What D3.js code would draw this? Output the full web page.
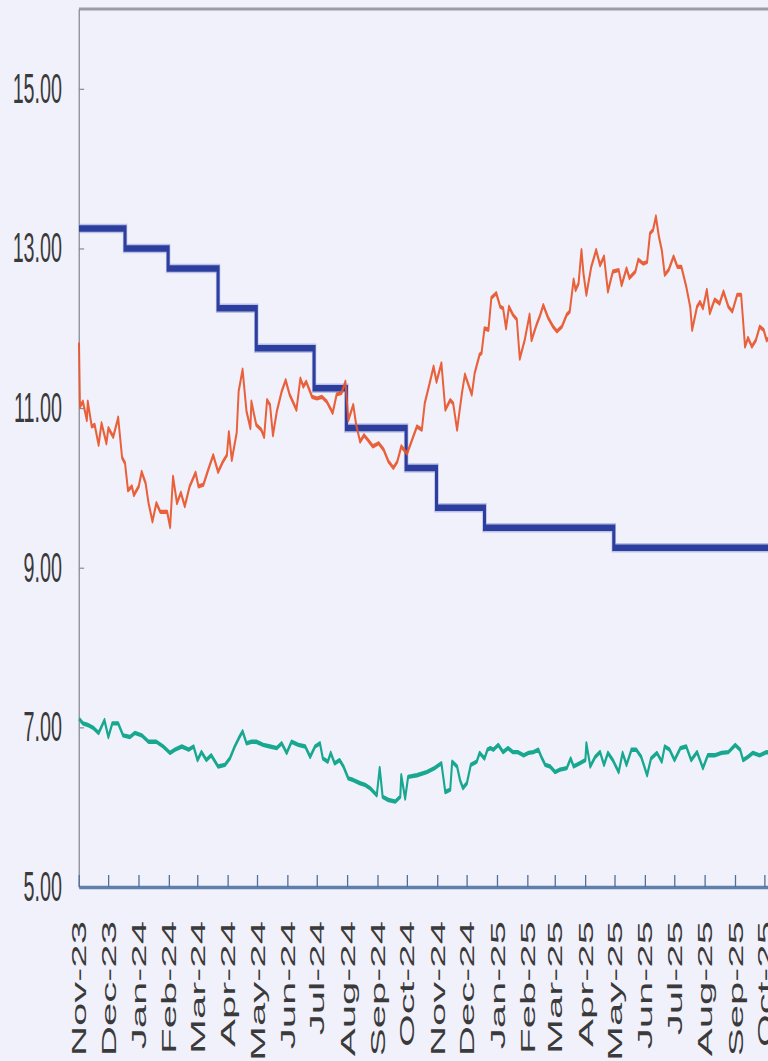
<!DOCTYPE html>
<html>
<head>
<meta charset="utf-8">
<script src="https://cdn.jsdelivr.net/npm/d3@7/dist/d3.min.js"></script>
<style>
  html, body { margin: 0; padding: 0; background: #f1f1fc; }
  svg { display: block; }
</style>
</head>
<body>
<svg id="chart"></svg>
<script>
/*
 rates chart: policy rate (steps) and two daily yield series
*/

// policy rate, value holds from each date until the next one
const policyRate = [
    ["2023-11-01", 13.25], ["2023-12-18", 13.00], ["2024-01-31", 12.75],
    ["2024-03-22", 12.25], ["2024-04-30", 11.75], ["2024-06-28", 11.25],
    ["2024-07-31", 10.75], ["2024-09-30", 10.25], ["2024-10-31", 9.75],
    ["2024-12-19", 9.50], ["2025-04-30", 9.25], ["2025-10-08", 9.25]
];

// orange series
const localYield = [
    ["2023-11-01", 11.82], ["2023-11-02", 11.02], ["2023-11-05", 11.08], ["2023-11-09", 10.85],
    ["2023-11-10", 11.08], ["2023-11-14", 10.77], ["2023-11-17", 10.79], ["2023-11-21", 10.54],
    ["2023-11-24", 10.81], ["2023-11-29", 10.56], ["2023-12-01", 10.75], ["2023-12-06", 10.64],
    ["2023-12-11", 10.88], ["2023-12-15", 10.38], ["2023-12-18", 10.31], ["2023-12-21", 9.97],
    ["2023-12-25", 10.02], ["2023-12-27", 9.91], ["2024-01-01", 10.02], ["2024-01-04", 10.20],
    ["2024-01-08", 10.06], ["2024-01-11", 9.81], ["2024-01-15", 9.58], ["2024-01-19", 9.81],
    ["2024-01-23", 9.70], ["2024-01-30", 9.70], ["2024-02-02", 9.51], ["2024-02-05", 10.14],
    ["2024-02-09", 9.81], ["2024-02-13", 9.94], ["2024-02-17", 9.77], ["2024-02-22", 10.02],
    ["2024-02-28", 10.19], ["2024-03-02", 10.02], ["2024-03-07", 10.04], ["2024-03-12", 10.23],
    ["2024-03-17", 10.41], ["2024-03-22", 10.20], ["2024-03-27", 10.33], ["2024-03-31", 10.41],
    ["2024-04-02", 10.70], ["2024-04-05", 10.35], ["2024-04-10", 10.69], ["2024-04-12", 11.21],
    ["2024-04-16", 11.48], ["2024-04-20", 10.96], ["2024-04-24", 10.75], ["2024-04-25", 11.08],
    ["2024-04-30", 10.79], ["2024-05-05", 10.73], ["2024-05-08", 10.64], ["2024-05-11", 11.10],
    ["2024-05-14", 11.04], ["2024-05-17", 10.66], ["2024-05-21", 10.96], ["2024-05-26", 11.21],
    ["2024-05-30", 11.35], ["2024-06-03", 11.17], ["2024-06-10", 10.98], ["2024-06-14", 11.37],
    ["2024-06-17", 11.27], ["2024-06-20", 11.33], ["2024-06-26", 11.14], ["2024-07-01", 11.12],
    ["2024-07-06", 11.14], ["2024-07-11", 11.08], ["2024-07-17", 10.94], ["2024-07-21", 11.17],
    ["2024-07-26", 11.19], ["2024-07-30", 11.33], ["2024-08-02", 10.85], ["2024-08-07", 11.04],
    ["2024-08-10", 10.79], ["2024-08-14", 10.58], ["2024-08-18", 10.66], ["2024-08-22", 10.60],
    ["2024-08-27", 10.52], ["2024-09-02", 10.56], ["2024-09-07", 10.48], ["2024-09-12", 10.33],
    ["2024-09-17", 10.25], ["2024-09-21", 10.33], ["2024-09-25", 10.52], ["2024-10-01", 10.43],
    ["2024-10-06", 10.60], ["2024-10-11", 10.77], ["2024-10-16", 10.73], ["2024-10-19", 11.06],
    ["2024-10-24", 11.31], ["2024-10-28", 11.52], ["2024-10-31", 11.33], ["2024-11-05", 11.56],
    ["2024-11-09", 10.98], ["2024-11-14", 11.10], ["2024-11-17", 11.06], ["2024-11-21", 10.73],
    ["2024-11-26", 11.19], ["2024-11-29", 11.42], ["2024-12-06", 11.17], ["2024-12-09", 11.44],
    ["2024-12-14", 11.67], ["2024-12-16", 11.69], ["2024-12-19", 12.00], ["2024-12-23", 11.98],
    ["2024-12-26", 12.38], ["2024-12-31", 12.44], ["2025-01-04", 12.27], ["2025-01-07", 12.25],
    ["2025-01-10", 12.00], ["2025-01-13", 12.27], ["2025-01-17", 12.17], ["2025-01-21", 12.11],
    ["2025-01-24", 11.62], ["2025-01-29", 11.85], ["2025-02-03", 12.17], ["2025-02-05", 11.85],
    ["2025-02-10", 12.04], ["2025-02-14", 12.17], ["2025-02-17", 12.29], ["2025-02-22", 12.13],
    ["2025-02-27", 12.02], ["2025-03-03", 11.96], ["2025-03-08", 12.02], ["2025-03-13", 12.17],
    ["2025-03-16", 12.21], ["2025-03-20", 12.61], ["2025-03-22", 12.48], ["2025-03-25", 12.56],
    ["2025-03-28", 12.98], ["2025-03-30", 12.69], ["2025-04-02", 12.42], ["2025-04-07", 12.77],
    ["2025-04-12", 12.98], ["2025-04-16", 12.79], ["2025-04-20", 12.90], ["2025-04-24", 12.46],
    ["2025-04-29", 12.71], ["2025-05-05", 12.73], ["2025-05-08", 12.54], ["2025-05-13", 12.75],
    ["2025-05-16", 12.63], ["2025-05-22", 12.71], ["2025-05-25", 12.86], ["2025-05-30", 12.81],
    ["2025-06-03", 12.83], ["2025-06-06", 13.19], ["2025-06-09", 13.23], ["2025-06-12", 13.40],
    ["2025-06-15", 13.15], ["2025-06-18", 12.98], ["2025-06-21", 12.67], ["2025-06-25", 12.73],
    ["2025-06-30", 12.90], ["2025-07-04", 12.77], ["2025-07-08", 12.77], ["2025-07-13", 12.52],
    ["2025-07-17", 12.27], ["2025-07-19", 11.98], ["2025-07-24", 12.27], ["2025-07-27", 12.33],
    ["2025-07-30", 12.25], ["2025-08-03", 12.48], ["2025-08-06", 12.19], ["2025-08-11", 12.36],
    ["2025-08-16", 12.31], ["2025-08-20", 12.46], ["2025-08-25", 12.27], ["2025-08-29", 12.21],
    ["2025-09-03", 12.42], ["2025-09-07", 12.42], ["2025-09-11", 11.77], ["2025-09-14", 11.88],
    ["2025-09-18", 11.77], ["2025-09-22", 11.85], ["2025-09-26", 12.02], ["2025-09-30", 11.98],
    ["2025-10-03", 11.85], ["2025-10-08", 11.90]
];

// teal series
const otherYield = [
    ["2023-11-01", 7.11], ["2023-11-05", 7.05], ["2023-11-10", 7.03], ["2023-11-16", 6.99],
    ["2023-11-21", 6.93], ["2023-11-27", 7.09], ["2023-12-01", 6.88], ["2023-12-05", 7.05],
    ["2023-12-11", 7.05], ["2023-12-16", 6.90], ["2023-12-23", 6.88], ["2023-12-28", 6.93],
    ["2024-01-04", 6.90], ["2024-01-11", 6.82], ["2024-01-19", 6.82], ["2024-01-26", 6.76],
    ["2024-02-02", 6.68], ["2024-02-07", 6.72], ["2024-02-14", 6.76], ["2024-02-21", 6.72],
    ["2024-02-26", 6.76], ["2024-03-01", 6.59], ["2024-03-05", 6.69], ["2024-03-10", 6.59],
    ["2024-03-15", 6.65], ["2024-03-22", 6.51], ["2024-03-29", 6.53], ["2024-04-03", 6.61],
    ["2024-04-08", 6.76], ["2024-04-12", 6.86], ["2024-04-16", 6.95], ["2024-04-20", 6.80],
    ["2024-04-25", 6.82], ["2024-04-30", 6.82], ["2024-05-07", 6.78], ["2024-05-14", 6.76],
    ["2024-05-21", 6.74], ["2024-05-26", 6.80], ["2024-05-31", 6.68], ["2024-06-05", 6.82],
    ["2024-06-12", 6.78], ["2024-06-19", 6.76], ["2024-06-24", 6.63], ["2024-06-29", 6.76],
    ["2024-07-04", 6.80], ["2024-07-07", 6.61], ["2024-07-12", 6.57], ["2024-07-15", 6.68],
    ["2024-07-19", 6.55], ["2024-07-24", 6.59], ["2024-07-28", 6.51], ["2024-08-02", 6.36],
    ["2024-08-07", 6.34], ["2024-08-14", 6.30], ["2024-08-19", 6.28], ["2024-08-24", 6.24],
    ["2024-08-31", 6.15], ["2024-09-03", 6.49], ["2024-09-06", 6.13], ["2024-09-12", 6.09],
    ["2024-09-19", 6.07], ["2024-09-24", 6.13], ["2024-09-25", 6.40], ["2024-09-29", 6.11],
    ["2024-10-02", 6.38], ["2024-10-11", 6.40], ["2024-10-21", 6.44], ["2024-10-29", 6.49],
    ["2024-11-05", 6.55], ["2024-11-09", 6.19], ["2024-11-14", 6.22], ["2024-11-16", 6.57],
    ["2024-11-21", 6.51], ["2024-11-24", 6.34], ["2024-11-27", 6.24], ["2024-12-01", 6.30],
    ["2024-12-05", 6.53], ["2024-12-11", 6.57], ["2024-12-14", 6.68], ["2024-12-19", 6.61],
    ["2024-12-22", 6.72], ["2024-12-25", 6.74], ["2024-12-28", 6.72], ["2025-01-02", 6.78],
    ["2025-01-07", 6.69], ["2025-01-12", 6.74], ["2025-01-17", 6.69], ["2025-01-22", 6.69],
    ["2025-01-28", 6.65], ["2025-02-02", 6.68], ["2025-02-07", 6.69], ["2025-02-12", 6.72],
    ["2025-02-15", 6.63], ["2025-02-19", 6.53], ["2025-02-24", 6.51], ["2025-03-01", 6.44],
    ["2025-03-06", 6.47], ["2025-03-13", 6.49], ["2025-03-17", 6.61], ["2025-03-20", 6.51],
    ["2025-03-26", 6.55], ["2025-04-01", 6.59], ["2025-04-02", 6.80], ["2025-04-06", 6.51],
    ["2025-04-11", 6.63], ["2025-04-16", 6.69], ["2025-04-20", 6.53], ["2025-04-24", 6.68],
    ["2025-04-29", 6.59], ["2025-05-05", 6.44], ["2025-05-09", 6.68], ["2025-05-13", 6.53],
    ["2025-05-18", 6.72], ["2025-05-23", 6.72], ["2025-05-28", 6.63], ["2025-06-03", 6.40],
    ["2025-06-07", 6.61], ["2025-06-13", 6.68], ["2025-06-18", 6.57], ["2025-06-21", 6.76],
    ["2025-06-26", 6.72], ["2025-07-01", 6.59], ["2025-07-07", 6.74], ["2025-07-13", 6.76],
    ["2025-07-18", 6.59], ["2025-07-24", 6.69], ["2025-07-30", 6.49], ["2025-08-04", 6.65],
    ["2025-08-11", 6.65], ["2025-08-18", 6.68], ["2025-08-25", 6.69], ["2025-09-01", 6.78],
    ["2025-09-06", 6.72], ["2025-09-09", 6.59], ["2025-09-14", 6.63], ["2025-09-19", 6.68],
    ["2025-09-26", 6.65], ["2025-10-03", 6.69], ["2025-10-08", 6.68]
];

const yTicks = [5, 7, 9, 11, 13, 15];
const xTickLabels = [
    "Nov-23", "Dec-23", "Jan-24", "Feb-24", "Mar-24", "Apr-24", "May-24", "Jun-24",
    "Jul-24", "Aug-24", "Sep-24", "Oct-24", "Nov-24", "Dec-24", "Jan-25", "Feb-25",
    "Mar-25", "Apr-25", "May-25", "Jun-25", "Jul-25", "Aug-25", "Sep-25", "Oct-25"
];

// the original picture is squeezed sideways, so everything is drawn
// in a wider space and scaled down horizontally
const SX = 0.47;
const width = 768, height = 1061;
const margin = { left: 79, right: 795, top: 9, bottom: 887 }; // right edge lies outside the picture
const font = "'Liberation Sans', Arial, Helvetica, sans-serif";

const parseDay = d3.timeParse("%Y-%m-%d");
const parseMonth = d3.timeParse("%b-%y");

const svg = d3.select("#chart")
    .attr("width", width)
    .attr("height", height)
    .attr("viewBox", [0, 0, width, height]);

svg.append("rect")
    .attr("width", width).attr("height", height)
    .attr("fill", "#f1f1fc");

const g = svg.append("g").attr("transform", `scale(${SX},1)`);

const x = d3.scaleTime()
    .domain([parseDay("2023-11-01"), parseDay("2025-11-01")])
    .range([margin.left / SX, margin.right / SX]);

const y = d3.scaleLinear()
    .domain([5, 16])
    .range([margin.bottom, margin.top]);

// top frame line
g.append("line")
    .attr("x1", x.range()[0]).attr("x2", x.range()[1])
    .attr("y1", margin.top).attr("y2", margin.top)
    .attr("stroke", "#9c9ca4")
    .attr("stroke-width", 3);

// y axis
g.append("g")
    .attr("transform", `translate(${x.range()[0]},0)`)
    .call(d3.axisLeft(y)
        .tickValues(yTicks)
        .tickFormat(d3.format(".2f"))
        .tickSizeInner(-11)
        .tickSizeOuter(0)
        .tickPadding(17 / SX))
    .call(ax => ax.select(".domain")
        .attr("stroke", "#8a8a92")
        .attr("stroke-width", 1.3 / SX))
    .call(ax => ax.selectAll(".tick line")
        .attr("stroke", "#8a8a92")
        .attr("stroke-width", 1.2))
    .call(ax => ax.selectAll(".tick text")
        .attr("fill", "#3a3a3a")
        .attr("font-family", font)
        .attr("font-size", 42));

// x axis
const xTicks = xTickLabels.map(s => parseMonth(s));
g.append("g")
    .attr("transform", `translate(0,${margin.bottom})`)
    .call(d3.axisBottom(x)
        .tickValues(xTicks)
        .tickFormat((d, i) => xTickLabels[i])
        .tickSizeInner(-12)
        .tickSizeOuter(0))
    .call(ax => ax.select(".domain")
        .attr("stroke", "#5f80ad")
        .attr("stroke-width", 3.5))
    .call(ax => ax.selectAll(".tick line")
        .attr("stroke", "#4f6f9c")
        .attr("stroke-width", 1.3 / SX))
    .call(ax => ax.selectAll(".tick text")
        .attr("transform", "rotate(-90)")
        .attr("x", -34)
        .attr("y", 0)
        .attr("dy", "0.36em")
        .attr("text-anchor", "end")
        .attr("fill", "#3a3a3a")
        .attr("font-family", font)
        .attr("font-size", 42));

const line = d3.line()
    .x(d => x(parseDay(d[0])))
    .y(d => y(d[1]));

// policy rate steps
g.append("path")
    .datum(policyRate)
    .attr("fill", "none")
    .attr("stroke", "#8f9ad6")
    .attr("stroke-opacity", 0.55)
    .attr("stroke-width", 9.5)
    .attr("d", line.curve(d3.curveStepAfter));

g.append("path")
    .datum(policyRate)
    .attr("fill", "none")
    .attr("stroke", "#2d3f9e")
    .attr("stroke-width", 6.5)
    .attr("d", line.curve(d3.curveStepAfter));

line.curve(d3.curveLinear);

g.append("path")
    .datum(otherYield)
    .attr("fill", "none")
    .attr("stroke", "#17a88f")
    .attr("stroke-width", 4.4)
    .attr("stroke-linejoin", "round")
    .attr("d", line);

g.append("path")
    .datum(localYield)
    .attr("fill", "none")
    .attr("stroke", "#e8552a")
    .attr("stroke-opacity", 0.92)
    .attr("stroke-width", 4.2)
    .attr("stroke-linejoin", "round")
    .attr("d", line);
</script>
</body>
</html>
